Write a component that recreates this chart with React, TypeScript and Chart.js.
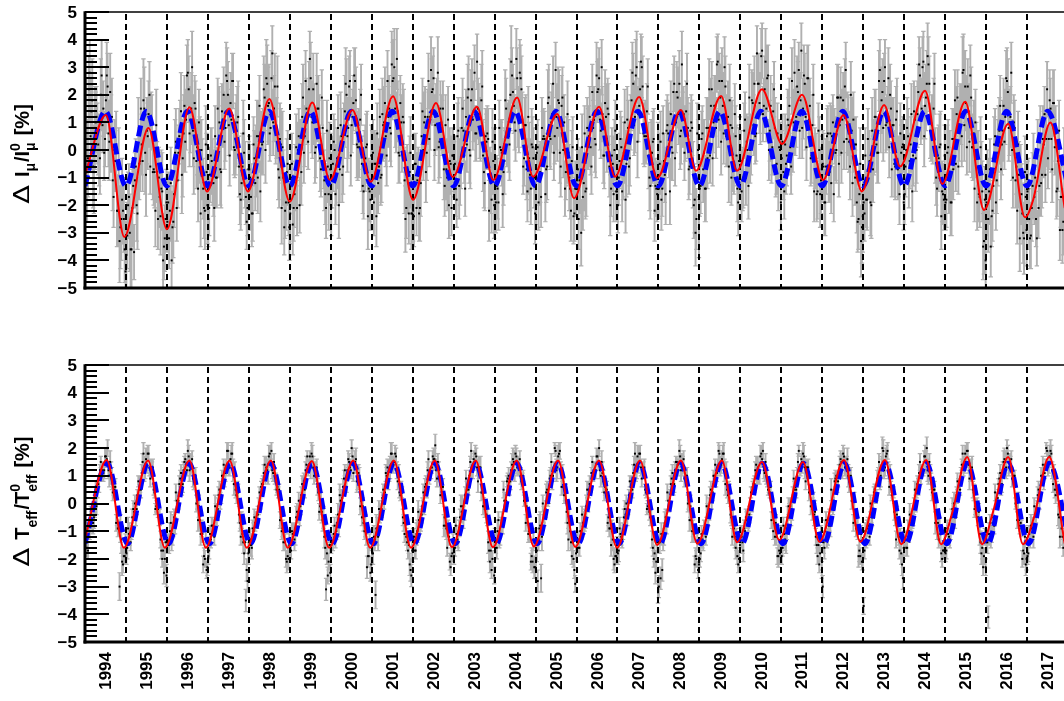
import { useEffect, useRef } from "react";
import { Chart, registerables } from "chart.js";
Chart.register(...registerables);

// ---------------- data ----------------
const FIRST_YEAR = 1994;
const SAMPLES_PER_YEAR = 24; // per series: two samples per month
const SERIES_OFFSETS = [0.25, 0.75]; // series A / series B sampling phase within a half-month slot

// muon intensity variation, tenths of a percent (one row per year) - series A
const muonTenthsA = [
  10,-12,22,5,18,-8,10,6,0,20,9,-1,18,23,3,6,-11,0,1,-22,-33,-25,-22,-36,
  -38,-20,-30,-36,-13,-11,-20,6,-4,2,18,-1,7,13,-6,10,-7,-22,-8,-10,-24,-15,-35,-25,
  -26,-32,-12,-28,-16,3,-11,5,14,-3,16,11,28,6,15,7,17,-4,-14,0,0,-14,-22,-8,
  -25,-9,-4,-12,5,-10,3,-7,14,20,8,25,9,17,25,1,4,10,-6,-18,-6,-1,-17,-21,
  -7,-17,-23,-3,-4,-10,16,3,3,19,26,16,6,26,10,23,8,-7,4,-21,-10,-22,-8,-19,
  -23,-5,-21,-10,-21,5,-1,12,-1,25,12,22,26,10,13,1,15,8,-7,8,-11,-21,-6,-3,
  -21,-5,0,-9,8,-7,5,-6,14,20,8,25,9,17,25,2,4,11,-5,-15,-3,2,-14,-18,
  -5,-19,-5,6,-6,-10,13,10,5,25,15,6,25,30,10,14,-2,10,12,-11,-21,-12,-8,-23,
  -22,-5,-21,-9,-21,5,0,12,-1,25,12,21,26,9,13,1,15,8,-7,9,-10,-20,-5,-2,
  -7,-14,5,-13,-3,15,-2,12,19,0,18,11,28,6,15,8,18,-2,-12,3,4,-10,-18,-4,
  -3,-13,-19,1,-1,-8,18,5,5,20,27,16,7,26,11,26,11,-3,9,-15,-3,-14,1,-10,
  -17,1,-9,-17,4,4,-7,17,5,10,24,5,12,18,-1,16,0,-14,0,-1,-14,-4,-24,-14,
  -11,-25,-11,1,-12,-15,8,5,1,21,11,2,21,26,7,13,-2,12,15,-6,-14,-5,0,-15,
  -20,-4,1,-7,10,-5,8,-3,18,24,12,30,13,22,30,6,8,14,-2,-13,-1,4,-13,-16,
  -14,3,-14,-4,-16,9,2,13,-1,24,10,19,24,7,11,-1,14,8,-6,10,-9,-18,-25,0,
  -14,4,-7,-14,8,8,-2,22,10,16,31,11,19,25,6,23,7,-6,9,8,-5,5,-14,-4,
  -4,-11,7,-10,0,19,2,17,24,6,24,17,34,13,22,15,27,7,-2,14,8,-5,-12,0,
  -3,-8,2,-2,9,1,25,10,9,23,29,18,8,27,12,26,11,-3,9,-15,-4,-15,0,-11,
  -5,-19,-6,6,-8,-12,10,5,0,19,9,-1,18,23,4,9,-6,7,11,-10,-19,-25,-5,-28,
  -19,-2,-18,-7,-19,7,1,12,-1,25,11,21,25,9,12,1,15,9,-5,11,-7,-16,-1,2,
  -16,0,5,-4,13,-2,11,0,21,27,15,32,16,24,31,7,9,15,-2,-14,-3,2,-15,-18,
  -19,-1,-11,-19,4,4,-5,19,7,13,28,9,17,23,3,19,1,-14,0,-3,-17,-8,-35,-18,
  -19,-25,-7,-24,-13,5,-11,4,16,2,16,12,25,8,12,0,10,-11,-22,-9,-9,-23,-32,-17,
  -15,-25,-31,-13,-17,-25,0,-13,-12,4,13,4,-3,18,4,17,1,-15,-4,-29,-17,-26,
];

// muon intensity variation, series B
const muonTenthsB = [
  12,-3,28,14,-6,8,12,2,-3,27,15,4,27,6,21,12,-17,-4,-22,-5,-28,-18,-25,-44,
  -31,-17,-36,-21,-37,-6,-23,-5,15,-4,15,-9,5,20,11,-8,-8,9,-25,-17,-14,-40,-32,-19,
  -19,-22,-40,-26,-1,-21,-1,8,-9,6,3,27,22,11,30,-3,15,1,10,-23,-7,-21,2,-20,
  -21,-2,-8,-21,-10,15,10,-8,11,3,27,20,-2,11,25,0,7,12,-16,-12,6,-9,-26,-7,
  -10,-23,2,-12,5,5,-15,2,22,0,24,17,8,35,15,7,23,-10,2,1,-28,-19,-5,-28,
  -10,-27,-16,1,0,-20,-8,19,5,15,3,33,12,22,-1,24,15,-3,19,-4,-16,7,-16,-7,
  -11,3,-16,-3,-20,9,-9,7,24,5,23,-2,12,27,18,1,1,20,-13,-3,1,-24,-15,-2,
  -1,-5,-24,-12,12,-9,9,17,-2,12,8,31,26,15,33,-1,17,2,10,-25,-9,-23,-1,-23,
  -24,-5,-11,-23,-12,14,10,-8,12,4,29,22,0,13,28,3,10,15,-13,-7,11,-4,-21,-2,
  -5,-18,7,-8,8,7,-14,2,22,-2,22,14,6,32,13,7,23,-8,5,6,-22,-12,3,-20,
  -19,-14,8,0,-16,-4,15,6,2,32,21,10,33,12,28,22,-6,9,-7,12,-9,2,-3,-23,
  -1,-19,-8,8,5,-16,-6,19,4,13,-1,29,8,17,-6,19,10,-8,13,-10,-22,1,-23,-14,
  -7,-11,-30,-17,6,-14,4,12,-6,8,4,27,22,11,30,-2,17,4,13,-20,-2,-16,7,-15,
  -10,4,-15,-1,-18,11,-6,10,28,9,27,3,16,32,23,5,5,23,-10,-1,3,-22,-14,0,
  -5,-18,6,-9,7,6,-15,1,21,-3,21,13,5,31,13,6,24,-7,7,8,-20,-30,6,-28,
  -13,6,-1,-14,-3,22,16,-3,16,8,32,25,3,16,30,5,12,18,-10,-5,13,-2,-19,0,
  -15,-10,11,3,-13,0,18,9,5,35,24,13,36,16,32,26,0,16,1,22,-6,6,1,-19,
  3,-15,-5,11,16,-6,4,28,12,21,7,36,15,24,1,26,16,-2,20,-3,-16,7,-16,-7,
  -6,-19,5,-9,6,5,-16,-1,19,-5,19,11,3,29,10,3,20,-12,2,2,-26,-16,-33,-24,
  -23,-18,4,-4,-20,-7,12,2,-1,29,18,8,30,10,26,20,-7,9,-6,14,-6,6,1,-19,
  -6,8,-11,2,-15,14,-3,13,31,12,30,5,19,34,24,6,6,24,-10,-2,1,-24,-16,-2,
  -18,1,-5,-19,-7,18,13,-6,13,5,29,23,1,14,27,1,6,10,-19,-16,1,-15,-33,-40,
  -12,-15,-35,-22,2,-19,-1,7,-7,7,3,26,21,10,28,-10,8,-6,2,-32,-16,-30,-8,-29,
  -14,-32,-21,-6,-10,-32,-21,5,-9,2,-9,22,4,15,-7,17,6,-14,7,-17,-29,-4,
];

// muon error per month, tenths of a percent
const muonErrTenths = [
  14,12,15,11,13,10,12,14,11,13,15,12,
  12,14,10,13,11,15,12,10,13,11,14,12,
  11,13,12,10,14,11,12,13,10,12,11,14,
  10,12,11,13,10,12,11,10,13,11,12,10,
  12,10,13,11,12,14,10,12,11,13,10,12,
  11,12,10,12,11,10,13,11,12,10,11,13,
  10,11,12,10,13,11,10,12,11,10,12,11,
  12,11,10,13,11,12,14,11,10,12,11,13,
  11,10,12,11,10,12,11,13,10,11,12,10,
  10,12,11,10,12,11,10,11,13,10,11,12,
  11,10,12,11,13,10,11,12,10,11,13,11,
  10,11,10,12,11,10,12,11,10,12,11,10,
  11,12,10,11,10,12,11,10,12,11,10,11,
  10,11,12,10,11,13,10,11,10,12,11,10,
  11,10,11,12,10,11,12,10,11,10,12,11,
  10,12,11,10,11,10,12,11,13,10,11,12,
  11,10,12,11,10,11,10,12,11,10,11,10,
  10,11,10,12,11,10,11,12,10,11,10,12,
  12,10,11,10,12,11,10,11,12,10,11,13,
  10,11,12,10,11,12,10,11,10,12,11,10,
  11,10,11,12,10,11,12,10,11,10,12,11,
  10,12,11,10,11,13,10,11,12,10,11,12,
  12,11,10,12,11,10,12,11,10,12,11,13,
  11,12,10,11,12,10,11,12,10,11,12,
];

// effective temperature variation, tenths of a percent - series A
const teffTenthsA = [
  -13,-16,-10,-4,-7,-5,5,5,6,15,12,12,17,20,10,11,4,5,-7,-9,-30,-13,-22,-19,
  -18,-9,-12,-10,-2,0,-2,8,7,11,18,13,14,18,9,12,5,-2,-1,-5,-13,-20,-25,-14,
  -14,-15,-7,-11,-5,4,0,7,11,7,15,14,19,12,14,9,10,0,-6,-6,-9,-22,-20,-24,
  -19,-11,-8,-9,-1,-4,3,1,10,14,11,19,13,16,18,7,5,5,-4,-12,-11,-18,-35,-28,
  -14,-15,-9,-5,-6,-4,4,6,7,14,13,11,18,19,11,10,5,4,-6,-10,-14,-14,-21,-20,
  -17,-10,-11,-11,-3,1,-1,7,8,12,17,14,13,17,10,11,6,-3,0,-6,-12,-31,-26,-15,
  -15,-14,-8,-10,-4,3,1,6,12,6,16,13,20,11,15,8,11,-1,-5,-7,-8,-23,-19,-25,
  -18,-12,-33,-10,-2,-3,2,0,11,13,12,18,14,15,17,8,4,6,-5,-11,-12,-17,-22,-26,
  -12,-17,-11,-3,-8,-4,4,6,5,16,11,13,16,21,9,12,3,6,-8,-8,-16,-12,-23,-18,
  -19,-8,-13,-9,-1,-1,-3,9,6,10,19,12,15,17,8,13,4,-1,-2,-4,-14,-21,-24,-13,
  -13,-16,-6,-12,-6,5,-1,8,10,8,14,15,18,13,13,10,9,1,-7,-5,-10,-21,-21,-23,
  -20,-28,-9,-27,0,-5,4,2,9,15,10,20,12,17,19,6,6,4,-3,-13,-10,-19,-20,-29,
  -13,-16,-10,-4,-7,-5,5,5,6,15,12,12,17,20,10,11,4,5,-7,-9,-15,-13,-22,-19,
  -18,-9,-12,-10,-2,0,-2,8,7,11,18,13,14,18,9,12,5,-2,-1,-5,-13,-20,-25,-14,
  -30,-27,-24,-11,-5,4,0,7,11,7,15,14,19,12,14,9,10,0,-6,-6,-9,-22,-20,-24,
  -20,-11,-14,-9,-1,-4,3,1,10,14,11,19,13,16,18,7,5,5,-4,-12,-9,-16,-19,-20,
  -12,-14,-9,-5,-6,-4,4,6,7,14,13,11,18,19,11,10,5,4,-6,-10,-12,-12,-19,-18,
  -19,-8,-13,-9,-1,-1,-3,9,6,10,19,12,15,17,8,13,4,-1,-2,-4,-12,-19,-22,-11,
  -30,-16,-6,-12,-6,5,-1,8,10,8,14,15,18,13,13,10,9,1,-7,-5,-8,-19,-19,-21,
  -37,-10,-9,-8,0,-5,4,2,9,15,10,20,12,17,19,6,6,4,-3,-13,-8,-17,-18,-27,
  -13,-16,-10,-4,-7,-5,5,5,6,15,12,12,17,20,10,11,4,5,-7,-9,-13,-11,-20,-17,
  -18,-9,-12,-10,-2,0,-2,8,7,11,18,14,15,19,9,12,5,-2,-1,-5,-11,-18,-23,-12,
  -14,-41,-7,-11,-5,4,0,7,11,7,15,15,20,13,14,9,10,0,-6,-6,-7,-20,-18,-22,
  -19,-11,-8,-9,-1,-4,3,1,10,14,11,20,14,17,18,7,5,5,-4,-12,-9,-16,
];

// effective temperature variation, series B
const teffTenthsB = [
  -12,-17,-10,-6,-7,-1,-1,7,12,10,11,17,16,12,15,9,6,6,-5,-9,-9,-21,-19,-14,
  -16,-11,-14,-5,-3,-5,3,5,5,15,12,16,18,13,13,13,4,-1,-2,-5,-17,-17,-20,-26,
  -14,-10,-13,-8,-8,1,1,9,6,12,16,12,17,14,16,8,10,1,-1,-11,-11,-19,-13,-23,
  -17,-13,-8,-12,-4,-2,5,3,10,8,13,19,13,18,12,11,3,4,-7,-6,-14,-14,-24,-18,
  -13,-16,-10,-7,-6,-1,0,7,11,10,12,17,15,12,15,8,6,5,-5,-9,-10,-20,-19,-15,
  -17,-11,-13,-5,-4,-5,3,6,5,14,12,17,18,13,12,13,4,-1,-3,-5,-16,-18,-21,-25,
  -14,-11,-13,-7,-8,1,2,9,6,12,15,12,17,14,16,9,10,1,-1,-10,-11,-19,-14,-22,
  -18,-13,-9,-12,-4,-2,5,4,10,8,13,18,14,18,12,11,3,4,-7,-7,-14,-15,-24,-17,
  -12,-17,-10,-6,-7,-1,-1,7,12,10,11,17,16,12,15,9,6,6,-5,-9,-9,-21,-19,-14,
  -16,-11,-14,-5,-3,-5,3,5,5,15,12,16,18,13,13,13,4,-1,-2,-5,-17,-17,-20,-26,
  -14,-10,-13,-8,-8,1,1,9,6,12,16,12,17,14,16,8,10,1,-1,-11,-11,-19,-13,-23,
  -17,-13,-8,-12,-4,-2,5,3,10,8,13,19,13,18,12,11,3,4,-7,-6,-14,-14,-24,-18,
  -13,-16,-10,-7,-6,-1,0,7,11,10,12,17,15,12,15,8,6,5,-5,-9,-10,-20,-19,-15,
  -17,-11,-13,-5,-4,-5,3,6,5,14,12,17,18,13,12,13,4,-1,-3,-5,-16,-18,-21,-32,
  -14,-11,-13,-7,-8,1,2,9,6,12,15,12,17,14,16,9,10,1,-1,-10,-11,-19,-14,-22,
  -18,-13,-9,-12,-4,-2,5,4,10,8,13,18,14,18,12,11,3,4,-5,-5,-12,-13,-22,-15,
  -12,-17,-10,-6,-7,-1,-1,7,12,10,11,17,16,12,15,9,6,6,-3,-7,-7,-19,-17,-12,
  -16,-11,-14,-5,-3,-5,3,5,5,15,12,16,18,13,13,13,4,-1,0,-3,-15,-15,-18,-24,
  -14,-10,-13,-8,-8,1,1,9,6,12,16,12,17,14,16,8,10,1,1,-9,-9,-17,-11,-21,
  -17,-13,-8,-12,-4,-2,5,3,10,8,13,19,13,18,12,11,3,4,-5,-4,-12,-12,-22,-16,
  -13,-16,-10,-7,-6,-1,0,7,11,10,12,17,15,12,15,8,6,5,-3,-7,-8,-18,-17,-13,
  -17,-11,-13,-5,-4,-5,3,6,5,14,13,18,19,14,12,13,4,-1,-1,-3,-14,-16,-19,-23,
  -14,-11,-13,-7,-8,1,2,9,6,12,16,13,18,15,16,9,10,1,1,-8,-9,-17,-12,-20,
  -18,-13,-9,-12,-4,-2,5,4,10,8,14,19,15,19,12,11,3,4,-5,-5,-12,-13,
];

const teffErrTenths = [
  3,3,4,3,2,3,3,4,3,3,5,3,
  4,3,3,2,3,4,3,3,2,3,3,4,
  3,4,3,3,3,2,4,3,3,4,3,3,
  3,3,4,3,2,3,3,4,3,3,4,4,
  4,3,3,2,3,4,3,3,2,3,3,4,
  3,4,3,3,3,2,4,3,3,4,4,3,
  3,3,4,3,2,3,3,4,3,3,4,3,
  4,5,3,2,3,4,3,3,2,3,3,4,
  3,4,3,3,3,2,4,3,3,4,3,3,
  3,3,4,3,2,3,3,4,3,3,4,3,
  4,3,3,2,3,4,3,3,2,3,3,4,
  4,5,3,3,3,2,4,3,3,4,3,3,
  3,3,4,3,2,3,3,4,3,3,4,3,
  4,3,3,2,3,4,3,3,2,3,3,4,
  4,4,3,3,3,2,4,3,3,4,3,3,
  3,3,4,3,2,3,3,4,3,3,4,3,
  4,3,3,2,3,4,3,3,2,3,3,4,
  3,4,3,3,3,2,4,3,3,4,3,3,
  4,3,4,3,2,3,3,4,3,3,4,3,
  3,3,3,2,3,4,3,3,2,3,3,4,
  3,4,3,3,3,2,4,3,3,4,3,3,
  3,3,4,3,2,3,3,4,3,3,4,3,
  4,3,3,2,3,4,3,3,2,3,3,4,
  3,4,3,3,3,2,4,3,3,4,3,
];

// fitted model (red): turning points
const muonFitTimes = [1994.0, 1994.51, 1994.96, 1995.55, 1996.0, 1996.55, 1996.98, 1997.52, 1997.98, 1998.5, 1999.0,
  1999.55, 1999.98, 2000.53, 2000.98, 2001.52, 2002.01, 2002.57, 2002.98, 2003.57, 2003.97, 2004.55, 2004.94,
  2005.53, 2005.94, 2006.55, 2006.94, 2007.53, 2007.97, 2008.55, 2008.92, 2009.53, 2009.92, 2010.53, 2011.02,
  2011.51, 2012.02, 2012.52, 2012.97, 2013.51, 2013.9, 2014.51, 2014.93, 2015.49, 2015.95, 2016.54, 2016.95,
  2017.15, 2017.57, 2017.92];
const muonFitValues = [-0.9, 1.27, -3.15, 0.8, -2.87, 1.55, -1.5, 1.5, -1.5, 1.85, -1.87,
  1.72, -1.09, 1.45, -1.15, 1.95, -1.8, 1.7, -0.98, 1.57, -1.09, 1.9, -0.97,
  1.3, -1.75, 1.57, -0.97, 1.92, -1.02, 1.45, -0.75, 1.96, -0.75, 2.2, 0.22,
  2.0, -1.09, 1.27, -1.5, 1.63, -0.6, 2.15, -1.23, 1.75, -2.17, 0.95, -2.44,
  -1.8, 1.0, -2.1];

const teffFitTimes = [1994.0, 1994.53, 1994.95, 1995.54, 1995.95, 1996.55, 1996.95, 1997.53, 1997.95, 1998.54, 1998.95,
  1999.54, 1999.96, 2000.55, 2000.96, 2001.54, 2001.96, 2002.54, 2002.96, 2003.54, 2003.96, 2004.54, 2004.96,
  2005.55, 2005.97, 2006.55, 2006.99, 2007.55, 2007.97, 2008.55, 2008.95, 2009.55, 2009.92, 2010.53, 2010.95,
  2011.53, 2011.93, 2012.53, 2012.93, 2013.53, 2013.93, 2014.54, 2014.9, 2015.17, 2015.54, 2015.9, 2016.17,
  2016.54, 2016.9, 2017.17, 2017.54, 2017.92];
const teffFitValues = [-1.3, 1.57, -1.6, 1.55, -1.6, 1.55, -1.6, 1.55, -1.6, 1.55, -1.6,
  1.53, -1.6, 1.55, -1.6, 1.55, -1.6, 1.55, -1.58, 1.55, -1.58, 1.55, -1.55,
  1.55, -1.57, 1.55, -1.6, 1.55, -1.5, 1.55, -1.45, 1.55, -1.4, 1.5, -1.32,
  1.5, -1.38, 1.57, -1.38, 1.57, -1.47, 1.57, -1.47, -0.35, 1.68, -1.47, -0.3,
  1.68, -1.47, -0.5, 1.68, -1.45];

// sinusoidal model (blue dashed): turning points
const muonSineTimes = [1994.0, 1994.5, 1995.0, 1995.5, 1996.0, 1996.5, 1997.0, 1997.5, 1998.0, 1998.5, 1999.0, 1999.5,
  2000.0, 2000.5, 2001.0, 2001.5, 2002.0, 2002.5, 2003.0, 2003.5, 2004.0, 2004.5, 2005.0, 2005.5, 2006.0, 2006.5,
  2007.0, 2007.5, 2008.0, 2008.5, 2009.0, 2009.5, 2010.0, 2010.5, 2011.0, 2011.5, 2012.0, 2012.5, 2013.0, 2013.5,
  2014.0, 2014.5, 2015.0, 2015.5, 2016.0, 2016.5, 2017.0, 2017.5, 2018.0];
const muonSineValues = [-1.3, 1.4, -1.3, 1.4, -1.3, 1.4, -1.3, 1.4, -1.3, 1.4, -1.3, 1.4,
  -1.3, 1.4, -1.3, 1.4, -1.3, 1.4, -1.3, 1.4, -1.3, 1.4, -1.3, 1.4, -1.3, 1.4,
  -1.3, 1.4, -1.3, 1.4, -1.3, 1.4, -1.3, 1.4, -1.3, 1.4, -1.3, 1.4, -1.3, 1.4,
  -1.3, 1.4, -1.3, 1.4, -1.3, 1.4, -1.3, 1.4, -1.3];

const teffSineTimes = [1994.0, 1994.54, 1995.04, 1995.54, 1996.04, 1996.54, 1997.04, 1997.54, 1998.04, 1998.54, 1999.04, 1999.54,
  2000.04, 2000.54, 2001.04, 2001.54, 2002.04, 2002.54, 2003.04, 2003.54, 2004.04, 2004.54, 2005.04, 2005.54, 2006.04, 2006.54,
  2007.04, 2007.54, 2008.04, 2008.54, 2009.04, 2009.54, 2010.04, 2010.54, 2011.04, 2011.54, 2012.04, 2012.54, 2013.04, 2013.54,
  2014.04, 2014.54, 2015.04, 2015.54, 2016.04, 2016.54, 2017.04, 2017.54, 2018.04];
const teffSineValues = [-1.44, 1.45, -1.45, 1.45, -1.45, 1.45, -1.45, 1.45, -1.45, 1.45, -1.45, 1.45,
  -1.45, 1.45, -1.45, 1.45, -1.45, 1.45, -1.45, 1.45, -1.45, 1.45, -1.45, 1.45, -1.45, 1.45,
  -1.45, 1.45, -1.45, 1.45, -1.45, 1.45, -1.45, 1.45, -1.45, 1.45, -1.45, 1.45, -1.45, 1.45,
  -1.45, 1.45, -1.45, 1.45, -1.45, 1.45, -1.45, 1.45, -1.45];

const yearLabels = ["1994","1995","1996","1997","1998","1999","2000","2001","2002","2003","2004","2005",
  "2006","2007","2008","2009","2010","2011","2012","2013","2014","2015","2016","2017"];
const yearBoundaries = [1995,1996,1997,1998,1999,2000,2001,2002,2003,2004,2005,2006,2007,2008,2009,2010,
  2011,2012,2013,2014,2015,2016,2017];
const yTickValues = [5,4,3,2,1,0,-1,-2,-3,-4,-5];
const yTickLabels = ["5","4","3","2","1","0","\u22121","\u22122","\u22123","\u22124","\u22125"];

// ---------------- drawing helpers ----------------
const FONT = '"Liberation Sans", Helvetica, Arial, sans-serif';

type Seg =
  | { kind: "delta" }
  | { kind: "text"; text: string }
  | { kind: "gap"; w: number }
  | { kind: "script"; sub: string; sup?: string; subDy: number };

const muonTitle: Seg[] = [
  { kind: "delta" }, { kind: "gap", w: 8 }, { kind: "text", text: "I" },
  { kind: "script", sub: "\u03bc", subDy: 6 }, { kind: "text", text: "/" }, { kind: "text", text: "I" },
  { kind: "script", sub: "\u03bc", sup: "0", subDy: 6 }, { kind: "gap", w: 6 }, { kind: "text", text: "[%]" },
];
const teffTitle: Seg[] = [
  { kind: "delta" }, { kind: "gap", w: 8 }, { kind: "text", text: "T" },
  { kind: "script", sub: "eff", subDy: 8 }, { kind: "text", text: "/" }, { kind: "text", text: "T" },
  { kind: "script", sub: "eff", sup: "0", subDy: 8 }, { kind: "gap", w: 6 }, { kind: "text", text: "[%]" },
];

const MAIN_FONT = `bold 20px ${FONT}`;
const SMALL_FONT = `bold 14px ${FONT}`;
const DELTA_FONT = `21px "DejaVu Sans", sans-serif`;
const DELTA_SCALE = 1.3;

function segWidth(ctx: CanvasRenderingContext2D, s: Seg): number {
  if (s.kind === "gap") return s.w;
  if (s.kind === "delta") { ctx.font = DELTA_FONT; return ctx.measureText("\u0394").width * DELTA_SCALE; }
  if (s.kind === "text") { ctx.font = MAIN_FONT; return ctx.measureText(s.text).width; }
  ctx.font = SMALL_FONT;
  return Math.max(ctx.measureText(s.sub).width, s.sup ? ctx.measureText(s.sup).width : 0) + 1;
}

function drawTitle(ctx: CanvasRenderingContext2D, segs: Seg[], cx: number, cy: number) {
  ctx.save();
  const widths = segs.map((s) => segWidth(ctx, s));
  const total = widths.reduce((a, b) => a + b, 0);
  ctx.translate(cx, cy);
  ctx.rotate(-Math.PI / 2);
  ctx.fillStyle = "#000";
  ctx.textAlign = "left";
  ctx.textBaseline = "alphabetic";
  let x = -total / 2;
  segs.forEach((s, i) => {
    if (s.kind === "delta") {
      ctx.save();
      ctx.font = DELTA_FONT;
      ctx.translate(x, 0);
      ctx.scale(DELTA_SCALE, 1);
      ctx.fillText("\u0394", 0, 0);
      ctx.restore();
    } else if (s.kind === "text") {
      ctx.font = MAIN_FONT;
      ctx.fillText(s.text, x, 0);
    } else if (s.kind === "script") {
      ctx.font = SMALL_FONT;
      ctx.fillText(s.sub, x, s.subDy);
      if (s.sup) ctx.fillText(s.sup, x, -9);
    }
    x += widths[i];
  });
  ctx.restore();
}

type PanelSpec = {
  series: number[][];
  errs: number[];
  fitT: number[];
  fitV: number[];
  sineT: number[];
  sineV: number[];
  title: Seg[];
  titleX: number;
  titleDy: number;
  showYears: boolean;
  padTop: number;
  padBottom: number;
};

function makePlugin(spec: PanelSpec) {
  return {
    id: "panel",
    beforeDatasetsDraw(chart: any) {
      const { ctx, chartArea: a, scales } = chart;
      const xs = scales.x, ys = scales.y;
      const pts = chart.data.datasets[2].data as { x: number; y: number; e: number }[];
      ctx.save();
      ctx.beginPath();
      ctx.rect(a.left, a.top, a.right - a.left, a.bottom - a.top);
      ctx.clip();
      // error bars
      ctx.strokeStyle = "#b0b0b0";
      ctx.lineWidth = 1.9;
      ctx.beginPath();
      for (const p of pts) {
        const px = xs.getPixelForValue(p.x);
        ctx.moveTo(px, ys.getPixelForValue(p.y - p.e));
        ctx.lineTo(px, ys.getPixelForValue(p.y + p.e));
      }
      ctx.stroke();
      ctx.lineWidth = 1.2;
      ctx.beginPath();
      for (const p of pts) {
        const px = xs.getPixelForValue(p.x);
        const y1 = ys.getPixelForValue(p.y - p.e);
        const y2 = ys.getPixelForValue(p.y + p.e);
        ctx.moveTo(px - 2.2, y1); ctx.lineTo(px + 2.2, y1);
        ctx.moveTo(px - 2.2, y2); ctx.lineTo(px + 2.2, y2);
      }
      ctx.stroke();
      // year boundary dashed lines
      ctx.strokeStyle = "#000";
      ctx.lineWidth = 2;
      ctx.setLineDash([6, 4]);
      ctx.beginPath();
      for (const yb of yearBoundaries) {
        const px = Math.round(xs.getPixelForValue(yb));
        ctx.moveTo(px, a.top + 2);
        ctx.lineTo(px, a.bottom);
      }
      ctx.stroke();
      ctx.restore();
    },
    afterDraw(chart: any) {
      const { ctx, chartArea: a, scales } = chart;
      const xs = scales.x, ys = scales.y;
      ctx.save();
      ctx.strokeStyle = "#000";
      ctx.fillStyle = "#000";
      // frame
      ctx.lineWidth = 1.5;
      ctx.beginPath(); ctx.moveTo(a.left, a.top); ctx.lineTo(a.right + 10, a.top); ctx.stroke();
      ctx.lineWidth = 3;
      ctx.beginPath(); ctx.moveTo(a.left - 1.5, a.bottom); ctx.lineTo(a.right + 10, a.bottom); ctx.stroke();
      ctx.beginPath(); ctx.moveTo(a.left, a.top - 0.75); ctx.lineTo(a.left, a.bottom + 1.5); ctx.stroke();
      // y ticks (inside)
      ctx.lineWidth = 2;
      ctx.beginPath();
      for (let j = 0; j <= 50; j++) {
        const v = -5 + j * 0.2;
        const py = Math.round(ys.getPixelForValue(v));
        const len = j % 5 === 0 ? 24 : 12;
        ctx.moveTo(a.left, py); ctx.lineTo(a.left + len, py);
      }
      ctx.stroke();
      // y tick labels
      ctx.font = `bold 17px ${FONT}`;
      ctx.textAlign = "right";
      ctx.textBaseline = "middle";
      yTickValues.forEach((v, i) => {
        ctx.fillText(yTickLabels[i], a.left - 8, ys.getPixelForValue(v) + 1);
      });
      // x labels (rotated)
      if (spec.showYears) {
        ctx.font = `bold 17px ${FONT}`;
        yearLabels.forEach((lab, i) => {
          const px = xs.getPixelForValue(FIRST_YEAR + i + 0.5);
          ctx.save();
          ctx.translate(px + 1, a.bottom + 10);
          ctx.rotate(-Math.PI / 2);
          ctx.textAlign = "right";
          ctx.textBaseline = "middle";
          ctx.fillText(lab, 0, 0);
          ctx.restore();
        });
      }
      // axis title
      drawTitle(ctx, spec.title, spec.titleX, (a.top + a.bottom) / 2 + spec.titleDy);
      ctx.restore();
    },
  };
}

function makeConfig(spec: PanelSpec): any {
  const pts: { x: number; y: number; e: number }[] = [];
  spec.series.forEach((vals, s) => {
    vals.forEach((v, i) => {
      pts.push({
        x: FIRST_YEAR + (i + SERIES_OFFSETS[s]) / SAMPLES_PER_YEAR,
        y: v / 10,
        e: spec.errs[Math.floor(i / 2)] / 10,
      });
    });
  });
  const fit = spec.fitT.map((t, i) => ({ x: t, y: spec.fitV[i] }));
  const sine = spec.sineT.map((t, i) => ({ x: t, y: spec.sineV[i] }));
  return {
    type: "scatter",
    data: {
      datasets: [
        { type: "line", label: "fit", data: fit, borderColor: "#ff0000", borderWidth: 2, pointRadius: 0,
          cubicInterpolationMode: "monotone", fill: false, order: 0 },
        { type: "line", label: "sine", data: sine, borderColor: "#0000ff", borderWidth: 5, borderDash: [11, 5],
          borderCapStyle: "butt", pointRadius: 0, cubicInterpolationMode: "monotone", fill: false, order: 1 },
        { type: "scatter", label: "data", data: pts, pointRadius: 1.4, pointStyle: "rect",
          backgroundColor: "#000", borderWidth: 0, order: 2 },
      ],
    },
    options: {
      animation: false,
      responsive: false,
      events: [],
      layout: { padding: { left: 85, right: 4, top: spec.padTop, bottom: spec.padBottom } },
      plugins: { legend: { display: false }, tooltip: { enabled: false }, title: { display: false } },
      scales: {
        x: { type: "linear", min: 1994, max: 2018, display: false },
        y: { type: "linear", min: -5, max: 5, display: false },
      },
    },
    plugins: [makePlugin(spec)],
  };
}

const topSpec: PanelSpec = {
  series: [muonTenthsA, muonTenthsB], errs: muonErrTenths, fitT: muonFitTimes, fitV: muonFitValues,
  sineT: muonSineTimes, sineV: muonSineValues, title: muonTitle, titleX: 29, titleDy: 4, showYears: false,
  padTop: 12, padBottom: 12,
};
const bottomSpec: PanelSpec = {
  series: [teffTenthsA, teffTenthsB], errs: teffErrTenths, fitT: teffFitTimes, fitV: teffFitValues,
  sineT: teffSineTimes, sineV: teffSineValues, title: teffTitle, titleX: 29, titleDy: -2, showYears: true,
  padTop: 25, padBottom: 59,
};

export default function App() {
  const topRef = useRef<HTMLCanvasElement>(null);
  const botRef = useRef<HTMLCanvasElement>(null);
  useEffect(() => {
    const c1 = new Chart(topRef.current as HTMLCanvasElement, makeConfig(topSpec));
    const c2 = new Chart(botRef.current as HTMLCanvasElement, makeConfig(bottomSpec));
    return () => {
      c1.destroy();
      c2.destroy();
    };
  }, []);
  return (
    <div style={{ position: "fixed", left: 0, top: 0, width: 1064, height: 701, overflow: "hidden", background: "#fff" }}>
      <canvas ref={topRef} width={1072} height={300} style={{ position: "absolute", left: 0, top: 0 }} />
      <canvas ref={botRef} width={1072} height={361} style={{ position: "absolute", left: 0, top: 340 }} />
    </div>
  );
}
